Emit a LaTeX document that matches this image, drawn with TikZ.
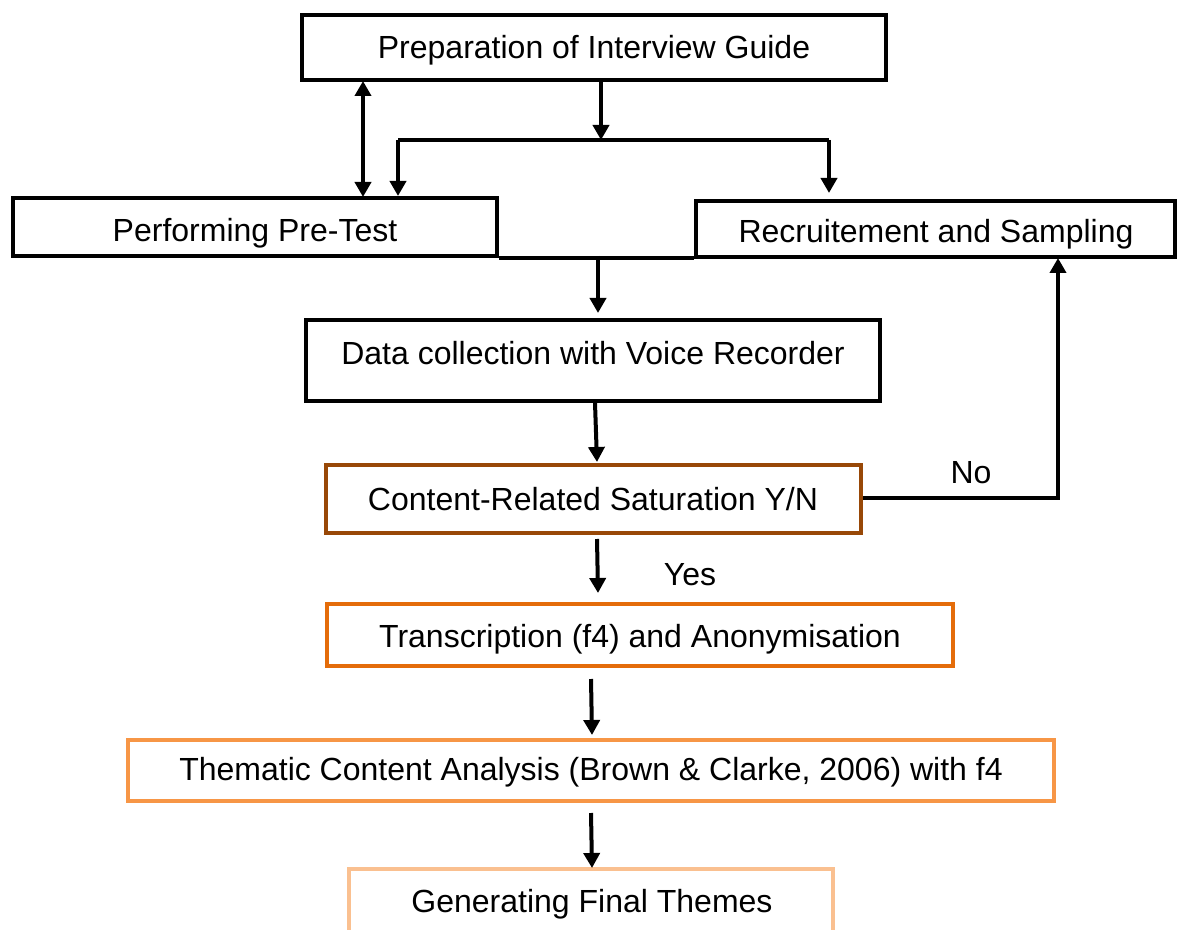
\documentclass[tikz,border=0pt]{standalone}
\usepackage{fontspec}
\setmainfont{Liberation Sans}
\usetikzlibrary{arrows.meta}
\definecolor{cbrown}{HTML}{984807}
\definecolor{corange}{HTML}{E46C0A}
\definecolor{clight}{HTML}{F79646}
\definecolor{cpale}{HTML}{FAC090}
\begin{document}
\begin{tikzpicture}[x=0.5pt,y=-0.5pt,
  txt/.style={inner sep=0pt, font=\fontsize{16}{19}\selectfont},
  box/.style={draw, line width=2pt, inner sep=0pt, txt},
  tip/.tip={Triangle[length=7.5pt,width=8pt]},
  arr/.style={line width=2pt, -tip},
  dblarr/.style={line width=2pt, tip-tip},
  plain/.style={line width=2pt}]
\useasboundingbox (0,0) rectangle (1177,930);
% boxes
\node[box, minimum width=292pt, minimum height=32.5pt] (prep) at (594,47.5) {};
\node[txt] (preptxt) at (594,50) {Preparation of Interview Guide};
\node[box, minimum width=242pt, minimum height=29pt] (pretest) at (255,227) {};
\node[txt] (pretesttxt) at (255,233) {Performing Pre-Test};
\node[box, minimum width=239.5pt, minimum height=28pt] (recruit) at (935.5,229) {};
\node[txt] (recruittxt) at (936,234) {Recruitement and Sampling};
\node[box, minimum width=287pt, minimum height=40.5pt] (datacol) at (593,360.5) {};
\node[txt] (datacoltxt) at (593,353) {Data collection with Voice Recorder};
\node[box, draw=cbrown, minimum width=267.5pt, minimum height=34pt] (content) at (593.5,499) {};
\node[txt] (contenttxt) at (593,499) {Content-Related Saturation Y/N};
\node[box, draw=corange, minimum width=313pt, minimum height=31pt] (trans) at (640,635) {};
\node[txt] (transtxt) at (640,639) {Transcription (f4) and Anonymisation};
\node[box, draw=clight, minimum width=463pt, minimum height=30.5pt] (them) at (591,770.5) {};
\node[txt] (themtxt) at (591,772) {Thematic Content Analysis (Brown \& Clarke, 2006) with f4};
\node[box, draw=cpale, minimum width=242pt, minimum height=36pt] (gen) at (591,905) {};
\node[txt] (gentxt) at (592,904) {Generating Final Themes};
% labels
\node[txt] (no) at (971,473) {No};
\node[txt] (yes) at (690,575) {Yes};
% coordinates
\coordinate (p1) at (601,80);
\coordinate (split) at (601,140);
\coordinate (sl) at (398,140);
\coordinate (sr) at (829,140);
\coordinate (slend) at (398,196);
\coordinate (srend) at (829,193);
\coordinate (d1) at (363,81);
\coordinate (d2) at (363,197);
\coordinate (j1) at (598,256);
\coordinate (j1end) at (598,313);
\coordinate (a3s) at (595,403);
\coordinate (a3e) at (597,462);
\coordinate (nocorner) at (1058,498);
\coordinate (noend) at (1058,258);
\coordinate (a4s) at (597,539);
\coordinate (a4e) at (598,593);
\coordinate (a5s) at (591,679);
\coordinate (a5e) at (592,735);
\coordinate (a6s) at (591,813);
\coordinate (a6e) at (592,868);
% connectors
\draw[arr] (p1) -- (split);
\draw[plain] (sl) -- (sr);
\draw[arr] (sl) -- (slend);
\draw[arr] (sr) -- (srend);
\draw[dblarr] (d1) -- (d2);
\draw[plain] (pretest.south east) -- (pretest.south east -| recruit.west);
\draw[arr] (j1) -- (j1end);
\draw[arr] (a3s) -- (a3e);
\draw[arr] (content.east |- nocorner) -- (nocorner) -- (noend);
\draw[arr] (a4s) -- (a4e);
\draw[arr] (a5s) -- (a5e);
\draw[arr] (a6s) -- (a6e);
\end{tikzpicture}
\end{document}
